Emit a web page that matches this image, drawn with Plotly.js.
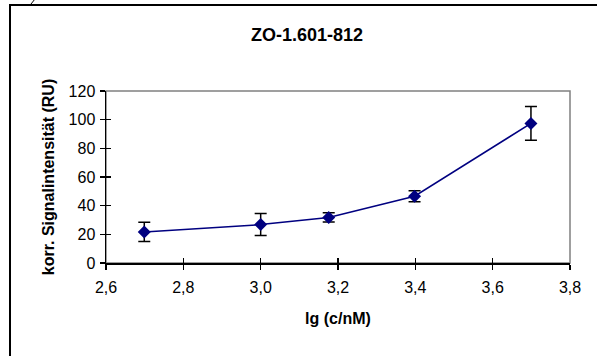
<!DOCTYPE html>
<html>
<head>
<meta charset="utf-8">
<script src="https://cdn.plot.ly/plotly-3.0.1.min.js"></script>
<style>html,body{margin:0;padding:0;background:#fff;}#chart{width:597px;height:356px;}</style>
</head>
<body>
<div id="chart"></div>
<script>
const chartTitle = "ZO-1.601-812";
const xTitle = "lg (c/nM)";
const yTitle = "korr. Signalintensität (RU)";
const logConc = [2.699, 3.0, 3.176, 3.398, 3.699];
const signal = [21.7, 26.8, 31.8, 46.6, 97.4];
const signalErr = [6.7, 7.7, 3.2, 3.8, 11.8];

const W = 597, H = 356;
const L = 106, R = 27, T = 91, B = 93;
const pw = W - L - R, ph = H - T - B;
const px = v => (v - L) / pw;
const py = v => (H - B - v) / ph;

const FONT = "Liberation Sans, Arial, sans-serif";

const trace = {
  x: logConc, y: signal, type: "scatter", mode: "lines+markers",
  line: {color: "#000080", width: 1.5},
  marker: {symbol: "diamond", size: 10, color: "#000080"},
  error_y: {type: "data", array: signalErr, visible: true, color: "#000000", thickness: 1.5, width: 6},
  showlegend: false, cliponaxis: false
};

const axisCommon = {showgrid: false, zeroline: false, fixedrange: true};

const layout = {
  width: W, height: H,
  margin: {l: L, r: R, t: T, b: B},
  paper_bgcolor: "#ffffff", plot_bgcolor: "#ffffff",
  separators: ", ",
  font: {family: FONT, size: 16, color: "#000"},
  title: {text: "<b>" + chartTitle + "</b>", font: {family: FONT, size: 18, color: "#000"},
          xref: "container", x: 307 / W, xanchor: "center", yref: "container", y: 1 - 35 / H, yanchor: "middle"},
  xaxis: Object.assign({}, axisCommon, {
    range: [2.6, 3.8], dtick: 0.2, tick0: 2.6, tickformat: ".1f",
    showline: true, linecolor: "#000", linewidth: 1.5,
    ticks: "outside", ticklen: 5, tickcolor: "#000", tickwidth: 1.3,
    ticklabelstandoff: 4,
    tickfont: {family: FONT, size: 16, color: "#000"},
    title: {text: "<b>" + xTitle + "</b>", font: {family: FONT, size: 16, color: "#000"}, standoff: 18},
    automargin: false
  }),
  yaxis: Object.assign({}, axisCommon, {
    range: [0, 120], dtick: 20,
    showline: true, linecolor: "#000", linewidth: 1.5,
    ticks: "outside", ticklen: 5, tickcolor: "#000", tickwidth: 1.3,
    ticklabelstandoff: 1,
    tickfont: {family: FONT, size: 16, color: "#000"},
    title: {text: "<b>" + yTitle + "</b>", font: {family: FONT, size: 16, color: "#000"}, standoff: 10},
    automargin: false
  }),
  xaxis2: Object.assign({}, axisCommon, {
    overlaying: "x", matches: "x", range: [2.6, 3.8], dtick: 0.2, tick0: 2.6,
    showticklabels: false, ticks: "inside", ticklen: 5, tickcolor: "#000", tickwidth: 1.3, showline: false
  }),
  yaxis2: Object.assign({}, axisCommon, {
    overlaying: "y", range: [0, 120], dtick: 20,
    showticklabels: false, ticks: "inside", ticklen: 5, tickcolor: "#000", tickwidth: 1.3, showline: false
  }),
  shapes: [
    {type: "rect", xref: "paper", yref: "paper", x0: 0, x1: 1, y0: 0, y1: 1, line: {color: "#808080", width: 1.5}, layer: "below"},
    {type: "line", xref: "paper", yref: "paper", x0: px(10), x1: px(10), y0: py(5), y1: py(360), line: {color: "#000", width: 2}},
    {type: "line", xref: "paper", yref: "paper", x0: px(9), x1: px(600), y0: py(5), y1: py(5), line: {color: "#000", width: 2}},
    {type: "line", xref: "paper", yref: "paper", x0: px(31), x1: px(35), y0: py(4), y1: py(-1), line: {color: "#000", width: 1}}
  ]
};

const dummy = {x: [2.6], y: [0], xaxis: "x2", yaxis: "y2", mode: "markers", marker: {opacity: 0}, showlegend: false, hoverinfo: "skip"};

Plotly.newPlot("chart", [dummy, trace], layout, {staticPlot: true, displayModeBar: false});
</script>
</body>
</html>
